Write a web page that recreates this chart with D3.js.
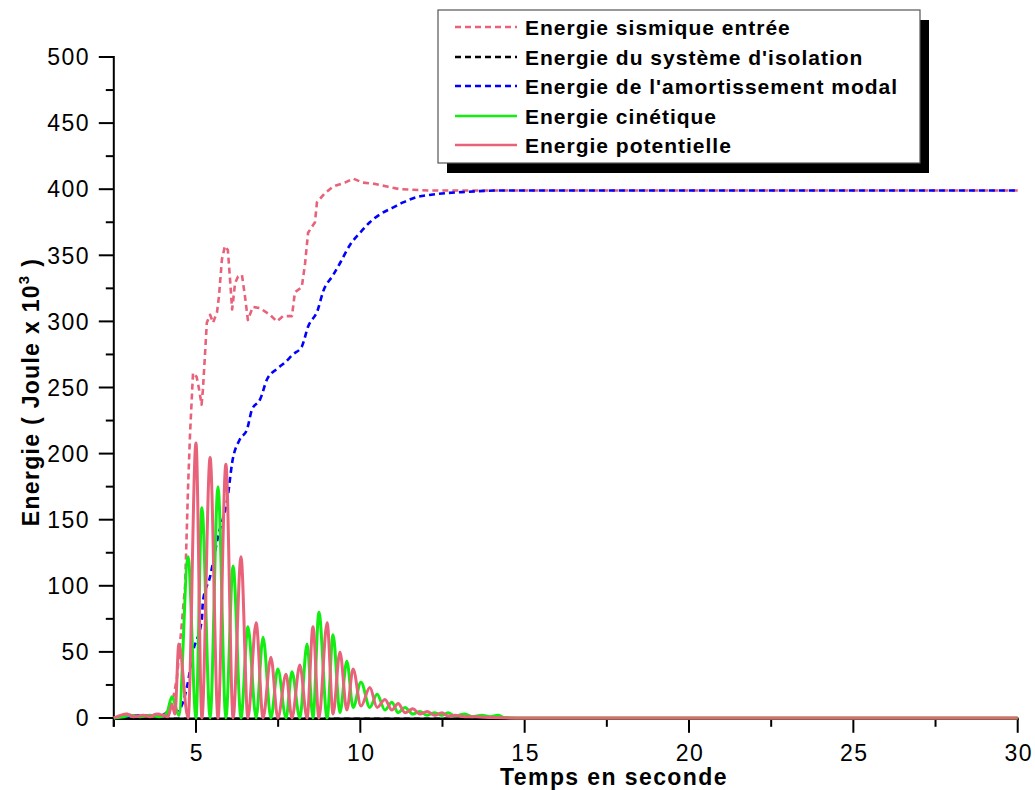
<!DOCTYPE html>
<html>
<head>
<meta charset="utf-8">
<script src="https://cdn.jsdelivr.net/npm/d3@7"></script>
<style>
  html, body { margin: 0; padding: 0; background: #fff; }
  svg { display: block; font-family: "Liberation Sans", Arial, sans-serif; }
</style>
</head>
<body>
<svg id="chart" width="1035" height="790"></svg>
<script>
// ---------- DATA ----------
const seriesNames = [
  "Energie sismique entrée",
  "Energie du système d'isolation",
  "Energie de l'amortissement modal",
  "Energie cinétique",
  "Energie potentielle"
];

const xTickValues = [5, 10, 15, 20, 25, 30];
const yTickValues = [0, 50, 100, 150, 200, 250, 300, 350, 400, 450, 500];

// Energie sismique entrée (input energy)
const inputT = [2.5, 2.7, 2.9, 3.1, 3.3, 3.5, 3.7, 3.9, 4.05, 4.2, 4.3, 4.42, 4.51, 4.67, 4.76, 4.82, 4.91,
  5.02, 5.10, 5.17, 5.21, 5.27, 5.33, 5.43, 5.52, 5.64, 5.70, 5.79, 5.88, 5.97, 6.03, 6.10, 6.19, 6.28,
  6.40, 6.49, 6.58, 6.73, 6.95, 7.25, 7.46, 7.65, 7.92, 8.01, 8.22, 8.32, 8.41, 8.62, 8.68, 8.92, 9.17,
  9.53, 9.78, 10.08, 10.45, 10.81, 11.21, 12.12, 14.0, 20.0, 30.0];
const inputV = [0, 1, 3, 2, 1, 2, 2, 2, 3, 7, 14, 30, 55, 100, 175, 215, 261,
  258, 248, 237, 248, 273, 299, 305, 299, 307, 319, 347, 357, 354, 334, 309, 329, 334,
  335, 319, 301, 311, 310, 305, 300, 304, 304, 322, 326, 344, 367, 375, 390, 397, 402,
  405, 408, 405, 404, 402, 400, 399, 399, 399, 399];

// Energie du système d'isolation (stays at zero, hidden under the axis)
const isoT = [2.5, 30];
const isoV = [0, 0];

// Energie de l'amortissement modal
const modalT = [2.5, 2.9, 3.3, 3.6, 3.9, 4.2, 4.51, 4.73, 4.91, 5.18, 5.21, 5.43, 5.67, 5.97, 6.10, 6.34,
  6.55, 6.70, 6.95, 7.16, 7.46, 7.71, 7.95, 8.22, 8.41, 8.71, 8.86, 9.17, 9.38, 9.69, 9.99, 10.29,
  10.60, 10.99, 11.30, 11.72, 12.21, 13.24, 14.25, 20.0, 30.0];
const modalV = [0, 1, 2, 2, 3, 3, 7, 24, 50, 75, 88, 107, 137, 168, 193, 211,
  218, 233, 241, 256, 264, 269, 275, 281, 296, 309, 322, 335, 344, 358, 367, 375,
  381, 386, 390, 394, 396, 398, 399, 399, 399];

// Energie cinétique (kinetic) – peaks and troughs
const kinT = [2.5, 2.8, 3.0, 3.3, 3.6, 3.9, 4.1, 4.27, 4.48, 4.76, 5.0, 5.18, 5.43, 5.67, 5.91, 6.13, 6.37,
  6.58, 6.83, 7.04, 7.28, 7.49, 7.74, 7.92, 8.16, 8.38, 8.56, 8.74, 8.99, 9.17, 9.38, 9.59, 9.78,
  10.02, 10.29, 10.51, 10.75, 10.96, 11.15, 11.36, 11.60, 11.81, 12.03, 12.27, 12.48, 12.67, 12.88,
  13.18, 13.40, 13.70, 13.95, 14.19, 14.40, 15.0, 30.0];
const kinV = [0, 1, 2, 1, 2, 1, 3, 16, 2, 122, 0, 159, 0, 175, 0, 115, 0,
  69, 0, 61, 0, 37, 0, 35, 0, 56, 0, 80, 0, 63, 4, 43, 8,
  27, 8, 18, 6, 12, 4, 8, 3, 5, 2, 4, 2, 4, 1.5,
  3, 1, 2, 1, 2, 0.3, 0, 0];

// Energie potentielle – peaks and troughs
const potT = [2.5, 2.7, 2.9, 3.1, 3.4, 3.6, 3.8, 4.0, 4.15, 4.27, 4.36, 4.48, 4.76, 5.0, 5.18, 5.43, 5.67,
  5.91, 6.13, 6.37, 6.58, 6.83, 7.04, 7.28, 7.49, 7.74, 7.92, 8.16, 8.38, 8.56, 8.74, 8.99, 9.17,
  9.38, 9.59, 9.78, 10.02, 10.29, 10.51, 10.75, 10.96, 11.15, 11.36, 11.60, 11.81, 12.03, 12.27,
  12.48, 12.67, 12.88, 13.18, 13.50, 14.0, 15.0, 30.0];
const potV = [0, 2, 3, 1, 2, 1, 3, 2, 1, 10, 3, 56, 0, 208, 0, 197, 0,
  192, 0, 122, 0, 72, 0, 46, 0, 33, 0, 40, 0, 69, 0, 72, 3,
  50, 6, 37, 9, 23, 8, 14, 6, 11, 4, 7, 3, 5, 2,
  4, 1.5, 2, 1, 1, 0.3, 0, 0];

// ---------- STYLE ----------
const colors = ["#E8627A", "#000000", "#0000FF", "#12EE12", "#E8627A"];
const dashes = ["6,4", "6,4", "6,4", null, null];
const widths = [2.6, 1, 2.6, 3, 3];

// ---------- LAYOUT ----------
const svg = d3.select("#chart");
const x = d3.scaleLinear().domain([2.5, 30]).range([113.8, 1017.7]);
const y = d3.scaleLinear().domain([0, 500]).range([718, 57]);

svg.append("rect").attr("width", 1035).attr("height", 790).attr("fill", "#fff");

const zip = (ts, vs) => ts.map((t, i) => [t, vs[i]]);
const series = [
  zip(inputT, inputV),
  zip(isoT, isoV),
  zip(modalT, modalV),
  zip(kinT, kinV),
  zip(potT, potV)
];
const curves = [d3.curveLinear, d3.curveLinear, d3.curveMonotoneX, d3.curveMonotoneX, d3.curveMonotoneX];

function drawSeries(g, i) {
  const line = d3.line().x(d => x(d[0])).y(d => y(d[1])).curve(curves[i]);
  g.append("path")
    .datum(series[i])
    .attr("d", line)
    .attr("fill", "none")
    .attr("stroke", colors[i])
    .attr("stroke-width", widths[i])
    .attr("stroke-dasharray", dashes[i])
    .attr("stroke-linejoin", "round");
}

// isolation energy first (lies on the axis)
const under = svg.append("g");
drawSeries(under, 1);

// ---------- AXES ----------
const axisG = svg.append("g");
const x0 = x(2.5), yBase = y(0) + 0.8;
const xMinor = d3.range(2.5, 30, 5);
const yMinor = d3.range(25, 500, 50);

axisG.selectAll(".xmaj").data(xTickValues).join("line")
  .attr("x1", d => x(d)).attr("x2", d => x(d))
  .attr("y1", yBase).attr("y2", yBase + 14)
  .attr("stroke", "#000").attr("stroke-width", 2);
axisG.selectAll(".xmin").data(xMinor).join("line")
  .attr("x1", d => x(d)).attr("x2", d => x(d))
  .attr("y1", yBase).attr("y2", yBase + 8)
  .attr("stroke", "#000").attr("stroke-width", 2);
axisG.selectAll(".ymaj").data(yTickValues).join("line")
  .attr("x1", x0 - 15).attr("x2", x0)
  .attr("y1", d => y(d)).attr("y2", d => y(d))
  .attr("stroke", "#000").attr("stroke-width", 2);
axisG.selectAll(".ymin").data(yMinor).join("line")
  .attr("x1", x0 - 8).attr("x2", x0)
  .attr("y1", d => y(d)).attr("y2", d => y(d))
  .attr("stroke", "#000").attr("stroke-width", 2);

axisG.append("line").attr("x1", x0).attr("x2", x(30) + 1).attr("y1", yBase).attr("y2", yBase)
  .attr("stroke", "#000").attr("stroke-width", 2.6);
axisG.append("line").attr("x1", x0).attr("x2", x0).attr("y1", y(500) - 1).attr("y2", yBase + 8)
  .attr("stroke", "#000").attr("stroke-width", 2);

// the other curves on top
const plot = svg.append("g");
[0, 2, 3, 4].forEach(i => drawSeries(plot, i));

// tick labels
axisG.selectAll(".xl").data(xTickValues).join("text")
  .attr("x", d => x(d) + 1).attr("y", 761)
  .attr("text-anchor", "middle")
  .attr("font-size", 23).attr("letter-spacing", "1.5px")
  .attr("fill", "#000")
  .text(d => d);
axisG.selectAll(".yl").data(yTickValues).join("text")
  .attr("x", 90).attr("y", d => y(d))
  .attr("dy", "0.36em")
  .attr("text-anchor", "end")
  .attr("font-size", 23).attr("letter-spacing", "1.5px")
  .attr("fill", "#000")
  .text(d => d);

// axis titles
svg.append("text")
  .attr("x", 614).attr("y", 785)
  .attr("text-anchor", "middle")
  .attr("font-size", 23).attr("font-weight", "bold").attr("letter-spacing", "1.4px")
  .text("Temps en seconde");

const yt = svg.append("text")
  .attr("transform", "translate(39,392) rotate(-90)")
  .attr("text-anchor", "middle")
  .attr("font-size", 23).attr("font-weight", "bold").attr("letter-spacing", "1.3px");
yt.append("tspan").text("Energie ( Joule x 10");
yt.append("tspan").attr("font-size", 15).attr("dy", -10).text("3");
yt.append("tspan").attr("dy", 10).text(" )");

// ---------- LEGEND ----------
const lg = svg.append("g");
lg.append("rect").attr("x", 447).attr("y", 20).attr("width", 482).attr("height", 153).attr("fill", "#000");
lg.append("rect").attr("x", 438).attr("y", 10).attr("width", 482).attr("height", 153)
  .attr("fill", "#fff").attr("stroke", "#555").attr("stroke-width", 1.2);
const rowY = [27, 57, 86, 116, 145];
seriesNames.forEach((name, i) => {
  lg.append("line")
    .attr("x1", 455).attr("x2", 517).attr("y1", rowY[i]).attr("y2", rowY[i])
    .attr("stroke", colors[i]).attr("stroke-width", 2.6)
    .attr("stroke-dasharray", dashes[i]);
  lg.append("text")
    .attr("x", 525).attr("y", rowY[i]).attr("dy", "0.36em")
    .attr("font-size", 21).attr("font-weight", "bold").attr("letter-spacing", "1px")
    .attr("fill", "#000")
    .text(name);
});
</script>
</body>
</html>
